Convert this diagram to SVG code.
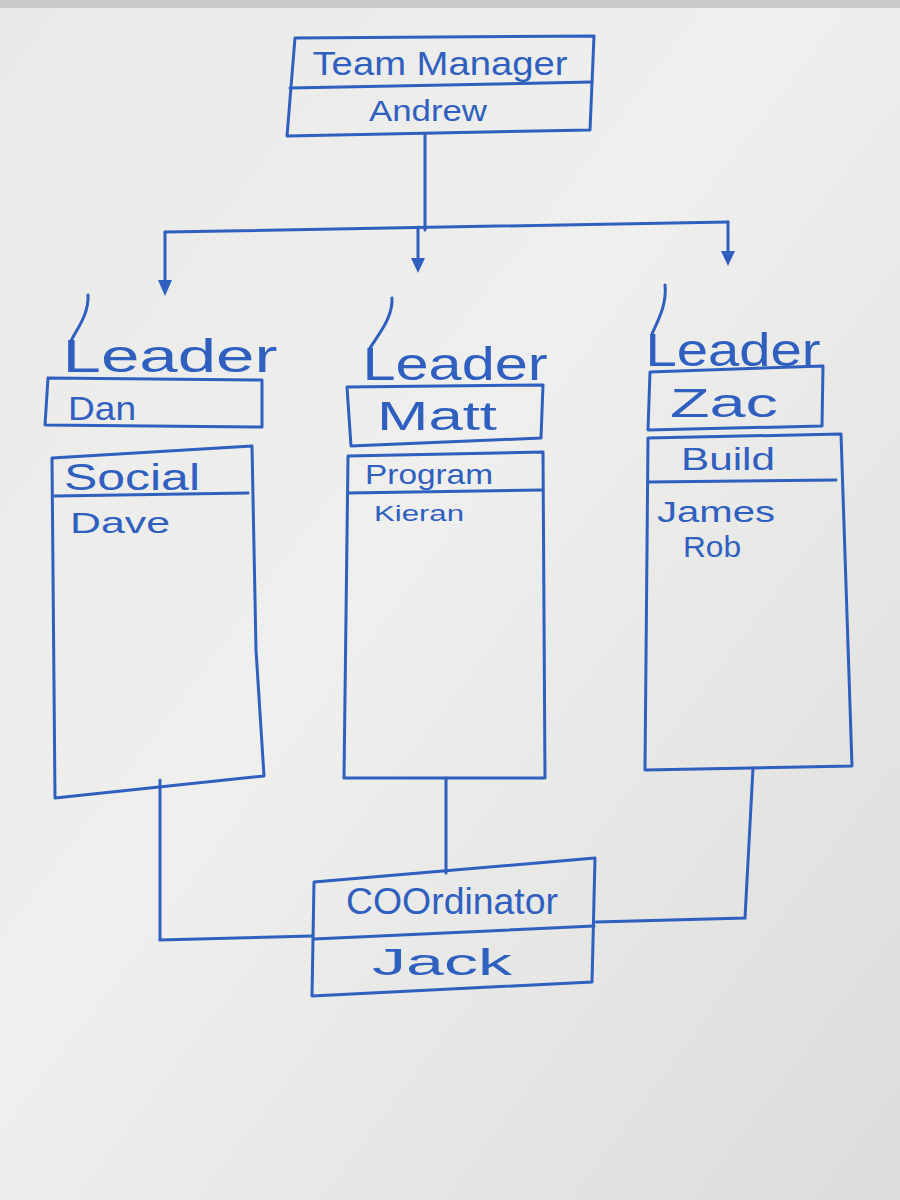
<svg xmlns="http://www.w3.org/2000/svg" width="900" height="1200" viewBox="0 0 900 1200">
<style>
.box{fill:none;stroke:#2f5fbf;stroke-width:3;stroke-linejoin:round}
.ln{fill:none;stroke:#2f5fbf;stroke-width:3;stroke-linecap:round}
.t{font-family:"Liberation Sans","DejaVu Sans",sans-serif;fill:#2f5fbf;text-anchor:middle}
.ah{fill:#2f5fbf}
</style>
<defs>
<linearGradient id="bg" x1="0" y1="0" x2="1" y2="1">
<stop offset="0" stop-color="#e9e9e7"/>
<stop offset="0.45" stop-color="#efefed"/>
<stop offset="1" stop-color="#dcdcda"/>
</linearGradient>
</defs>
<rect width="900" height="1200" fill="url(#bg)"/>
<rect x="0" y="0" width="900" height="8" fill="#c9c9c7"/>

<g id="connectors">
<path class="ln" d="M425,135 L425,230"/>
<path class="ln" d="M165,232 L728,222"/>
<path class="ln" d="M165,232 L165,284"/>
<path class="ln" d="M418,227 L418,262"/>
<path class="ln" d="M728,222 L728,256"/>
<path class="ah" d="M158,280 L172,280 L165,296 Z"/>
<path class="ah" d="M411,258 L425,258 L418,273 Z"/>
<path class="ah" d="M721,251 L735,251 L728,266 Z"/>
<path class="ln" d="M160,780 L160,940 L312,936"/>
<path class="ln" d="M446,778 L446,873"/>
<path class="ln" d="M753,768 L745,918 L596,922"/>
</g>

<g id="team-manager">
<path class="box" d="M295,38 L594,36 L590,130 L287,136 Z"/>
<path class="ln" d="M290,88 L592,82"/>
<text class="t" x="440" y="75" font-size="34" textLength="255" lengthAdjust="spacingAndGlyphs">Team Manager</text>
<text class="t" x="428" y="121" font-size="30" textLength="118" lengthAdjust="spacingAndGlyphs">Andrew</text>
</g>

<g id="leader-dan">
<path class="ln" d="M88,295 C89,315 76,330 71,341"/>
<text class="t" x="170" y="372" font-size="46" textLength="215" lengthAdjust="spacingAndGlyphs">Leader</text>
<path class="box" d="M48,378 L262,380 L262,427 L45,425 Z"/>
<text class="t" x="102" y="420" font-size="34" textLength="68" lengthAdjust="spacingAndGlyphs">Dan</text>
</g>
<g id="social">
<path class="box" d="M52,458 L252,446 L256,650 L264,776 L55,798 Z"/>
<path class="ln" d="M55,496 L248,493"/>
<text class="t" x="132" y="490" font-size="36" textLength="136" lengthAdjust="spacingAndGlyphs">Social</text>
<text class="t" x="120" y="533" font-size="30" textLength="100" lengthAdjust="spacingAndGlyphs">Dave</text>
</g>

<g id="leader-matt">
<path class="ln" d="M392,298 C393,318 378,335 370,348"/>
<text class="t" x="455" y="380" font-size="46" textLength="185" lengthAdjust="spacingAndGlyphs">Leader</text>
<path class="box" d="M347,387 L543,385 L541,438 L351,446 Z"/>
<text class="t" x="437" y="430" font-size="40" textLength="120" lengthAdjust="spacingAndGlyphs">Matt</text>
</g>
<g id="program">
<path class="box" d="M348,456 L543,452 L545,778 L344,778 Z"/>
<path class="ln" d="M348,493 L542,490"/>
<text class="t" x="429" y="484" font-size="28" textLength="128" lengthAdjust="spacingAndGlyphs">Program</text>
<text class="t" x="419" y="521" font-size="22" textLength="90" lengthAdjust="spacingAndGlyphs">Kieran</text>
</g>

<g id="leader-zac">
<path class="ln" d="M665,285 C667,305 658,320 652,334"/>
<text class="t" x="733" y="366" font-size="46" textLength="175" lengthAdjust="spacingAndGlyphs">Leader</text>
<path class="box" d="M650,372 L823,366 L822,426 L648,430 Z"/>
<text class="t" x="724" y="417" font-size="40" textLength="108" lengthAdjust="spacingAndGlyphs">Zac</text>
</g>
<g id="build">
<path class="box" d="M648,438 L841,434 L852,766 L645,770 Z"/>
<path class="ln" d="M648,482 L836,480"/>
<text class="t" x="728" y="470" font-size="32" textLength="94" lengthAdjust="spacingAndGlyphs">Build</text>
<text class="t" x="716" y="522" font-size="30" textLength="118" lengthAdjust="spacingAndGlyphs">James</text>
<text class="t" x="712" y="557" font-size="30" textLength="58" lengthAdjust="spacingAndGlyphs">Rob</text>
</g>

<g id="coordinator">
<path class="box" d="M314,882 L595,858 L592,982 L312,996 Z"/>
<path class="ln" d="M314,939 L594,926"/>
<text class="t" x="452" y="914" font-size="36" textLength="212" lengthAdjust="spacingAndGlyphs">COOrdinator</text>
<text class="t" x="442" y="975" font-size="36" textLength="140" lengthAdjust="spacingAndGlyphs">Jack</text>
</g>
</svg>
